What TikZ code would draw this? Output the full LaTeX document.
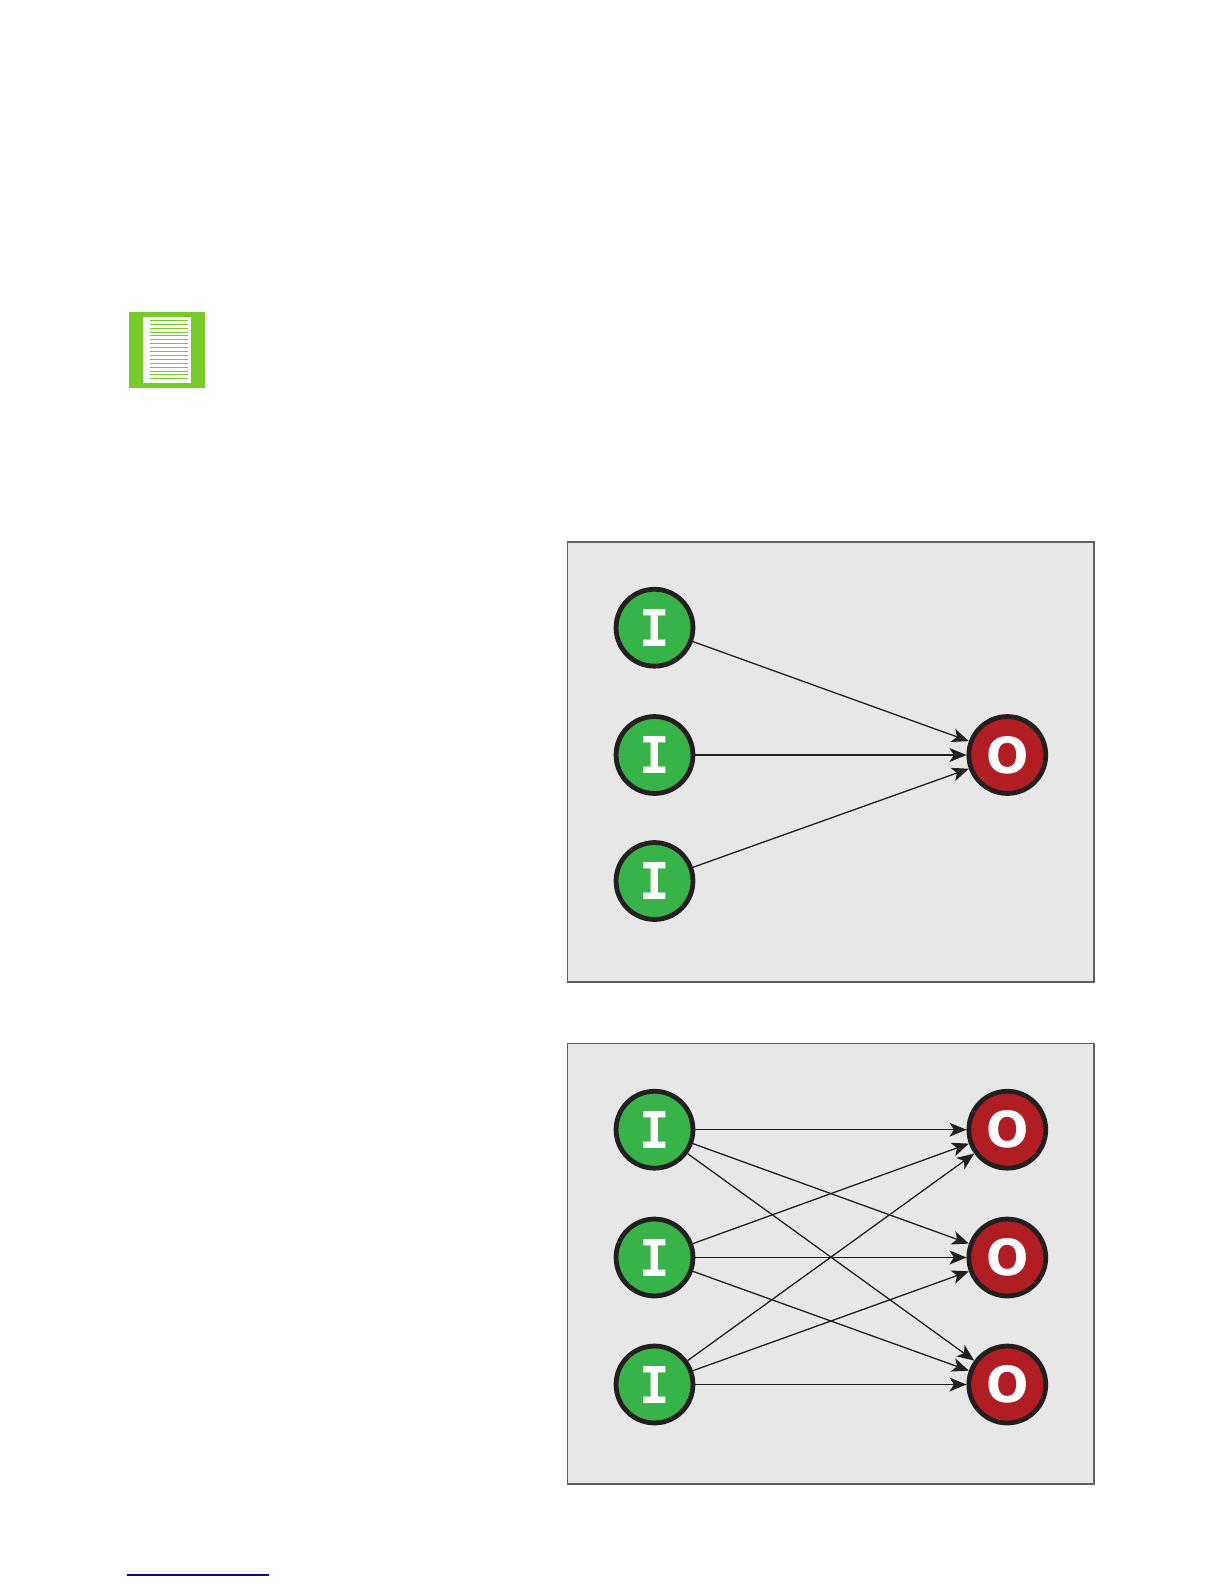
\documentclass[tikz,border=0pt]{standalone}
\usepackage{fontspec}
\usetikzlibrary{arrows.meta}
\newfontfamily\inpfont{DejaVu Sans Mono}
\newfontfamily\outfont{DejaVu Sans}
\definecolor{panelfill}{HTML}{E7E7E8}
\definecolor{panelline}{HTML}{5F6062}
\definecolor{inpgreen}{HTML}{37B34A}
\definecolor{outred}{HTML}{B01E24}
\definecolor{ringline}{HTML}{231F20}
\definecolor{icongreen}{HTML}{76CB2B}
\definecolor{rulenavy}{HTML}{0A0A82}
\tikzset{
  panel/.style={draw=panelline,fill=panelfill,line width=0.8pt},
  inpv/.style={draw=ringline,circle,fill=inpgreen,line width=2.4pt,inner sep=0pt,minimum size=38.6pt,text=white,font=\inpfont\bfseries\fontsize{25.5}{25.5}\selectfont},
  outv/.style={draw=ringline,circle,fill=outred,line width=2.4pt,inner sep=0pt,minimum size=38.6pt,text=white,font=\outfont\bfseries\fontsize{25}{25}\selectfont},
  wire/.style={draw=ringline,line width=0.65pt,-{Stealth[length=8.5pt,width=7pt,inset=2.2pt]}},
  iconline/.style={draw=icongreen,line width=0.5pt},
}
\begin{document}
\begin{tikzpicture}[x=0.5bp,y=-0.5bp]
  \useasboundingbox (0,0) rectangle (1224,1584);
  % note icon
  \fill[icongreen] (129,312) rectangle (205,388);
  \fill[white] (143,317) rectangle (191,383);
  \draw[iconline] (150,320.3) -- (188,320.3);
  \draw[iconline] (150,324.2) -- (188,324.2);
  \draw[iconline] (150,328.1) -- (188,328.1);
  \draw[iconline] (150,332.0) -- (188,332.0);
  \draw[iconline] (150,335.9) -- (188,335.9);
  \draw[iconline] (150,339.8) -- (188,339.8);
  \draw[iconline] (150,343.7) -- (188,343.7);
  \draw[iconline] (150,347.6) -- (188,347.6);
  \draw[iconline] (150,351.5) -- (188,351.5);
  \draw[iconline] (150,355.4) -- (188,355.4);
  \draw[iconline] (150,359.3) -- (188,359.3);
  \draw[iconline] (150,363.2) -- (188,363.2);
  \draw[iconline] (150,367.1) -- (188,367.1);
  \draw[iconline] (150,371.0) -- (188,371.0);
  \draw[iconline] (150,374.9) -- (188,374.9);
  \draw[iconline] (150,378.5) -- (188,378.5);
  % upper panel
  \filldraw[panel] (567.5,542) rectangle (1094,982);
  \node[inpv] (a1) at (654.5,627.7) {I};
  \node[inpv] (a2) at (654.5,755) {I};
  \node[inpv] (a3) at (654.5,881) {I};
  \node[outv] (ao) at (1007.3,755) {O};
  \draw[wire] (a1) -- (ao);
  \draw[wire] (a2) -- (ao);
  \draw[wire] (a3) -- (ao);
  % lower panel
  \filldraw[panel] (567.5,1043.5) rectangle (1094,1484);
  \node[inpv] (b1) at (654.5,1129.7) {I};
  \node[inpv] (b2) at (654.5,1257.5) {I};
  \node[inpv] (b3) at (654.5,1384.5) {I};
  \node[outv] (c1) at (1007.3,1129.7) {O};
  \node[outv] (c2) at (1007.3,1257.5) {O};
  \node[outv] (c3) at (1007.3,1384.5) {O};
  \draw[wire] (b1) -- (c1);
  \draw[wire] (b1) -- (c2);
  \draw[wire] (b1) -- (c3);
  \draw[wire] (b2) -- (c1);
  \draw[wire] (b2) -- (c2);
  \draw[wire] (b2) -- (c3);
  \draw[wire] (b3) -- (c1);
  \draw[wire] (b3) -- (c2);
  \draw[wire] (b3) -- (c3);
  % footnote rule
  \draw[rulenavy,line width=0.6pt] (127,1575) -- (269,1575);
\end{tikzpicture}
\end{document}
